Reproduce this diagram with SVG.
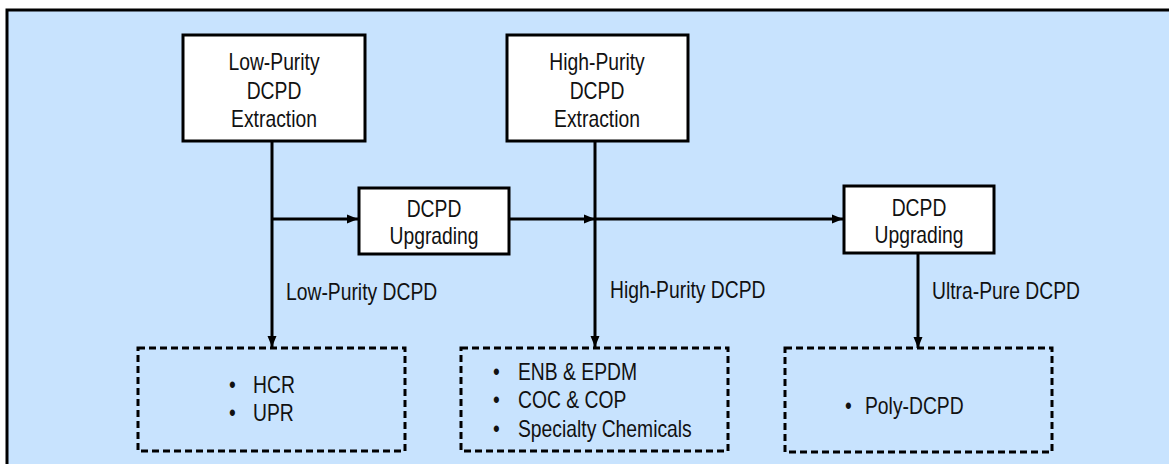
<svg xmlns="http://www.w3.org/2000/svg" width="1169" height="464" viewBox="0 0 1169 464">
<style>
text{font-family:"Liberation Sans",Arial,sans-serif;font-size:23px;fill:#111}
.box{fill:#fff;stroke:#000;stroke-width:3}
.dash{fill:none;stroke:#000;stroke-width:3;stroke-dasharray:7 4}
.c{text-anchor:middle}
.ln{fill:none;stroke:#000;stroke-width:3}
</style>
<defs>
<marker id="ah" markerWidth="11" markerHeight="10" refX="11" refY="5" orient="auto" markerUnits="userSpaceOnUse">
<path d="M0,0.5 L11,5 L0,9.5 Z" fill="#000"/>
</marker>
</defs>
<rect x="7" y="10" width="1180" height="470" fill="#C8E3FE" stroke="#000" stroke-width="3"/>
<g id="lowExtraction">
<rect class="box" x="183" y="35" width="182" height="106"/>
<text class="c" transform="translate(274,70) scale(0.84,1)">Low-Purity</text>
<text class="c" transform="translate(274,99) scale(0.84,1)">DCPD</text>
<text class="c" transform="translate(274,127) scale(0.84,1)">Extraction</text>
</g>
<g id="highExtraction">
<rect class="box" x="507" y="35" width="181" height="106"/>
<text class="c" transform="translate(597,70) scale(0.84,1)">High-Purity</text>
<text class="c" transform="translate(597,99) scale(0.84,1)">DCPD</text>
<text class="c" transform="translate(597,127) scale(0.84,1)">Extraction</text>
</g>
<g id="upgrading1">
<rect class="box" x="359" y="188" width="150" height="66"/>
<text class="c" transform="translate(434,217) scale(0.84,1)">DCPD</text>
<text class="c" transform="translate(434,244) scale(0.84,1)">Upgrading</text>
</g>
<g id="upgrading2">
<rect class="box" x="844" y="186" width="150" height="67"/>
<text class="c" transform="translate(919,216) scale(0.84,1)">DCPD</text>
<text class="c" transform="translate(919,243) scale(0.84,1)">Upgrading</text>
</g>
<g id="lowApps">
<rect class="dash" x="138" y="348" width="267" height="103"/>
<text transform="translate(229,393) scale(0.84,1)">•</text><text transform="translate(253,393) scale(0.84,1)">HCR</text>
<text transform="translate(229,421) scale(0.84,1)">•</text><text transform="translate(253,421) scale(0.84,1)">UPR</text>
</g>
<g id="highApps">
<rect class="dash" x="461" y="348" width="267" height="103"/>
<text transform="translate(493,380) scale(0.84,1)">•</text><text transform="translate(518,380) scale(0.84,1)">ENB &amp; EPDM</text>
<text transform="translate(493,408) scale(0.84,1)">•</text><text transform="translate(518,408) scale(0.84,1)">COC &amp; COP</text>
<text transform="translate(493,437) scale(0.84,1)">•</text><text transform="translate(518,437) scale(0.84,1)">Specialty Chemicals</text>
</g>
<g id="ultraApps">
<rect class="dash" x="785" y="348" width="267" height="104"/>
<text transform="translate(845,414) scale(0.84,1)">•</text><text transform="translate(865,414) scale(0.84,1)">Poly-DCPD</text>
</g>
<g id="connectors">
<line class="ln" x1="272" y1="141" x2="272" y2="347" marker-end="url(#ah)"/>
<line class="ln" x1="272" y1="219" x2="358" y2="219" marker-end="url(#ah)"/>
<line class="ln" x1="509" y1="219" x2="595" y2="219" marker-end="url(#ah)"/>
<line class="ln" x1="595" y1="219" x2="843" y2="219" marker-end="url(#ah)"/>
<line class="ln" x1="595" y1="141" x2="595" y2="347" marker-end="url(#ah)"/>
<line class="ln" x1="918" y1="253" x2="918" y2="348" marker-end="url(#ah)"/>
<text transform="translate(286,300) scale(0.84,1)">Low-Purity DCPD</text>
<text transform="translate(610,298) scale(0.84,1)">High-Purity DCPD</text>
<text transform="translate(932,299) scale(0.84,1)">Ultra-Pure DCPD</text>
</g>
</svg>
